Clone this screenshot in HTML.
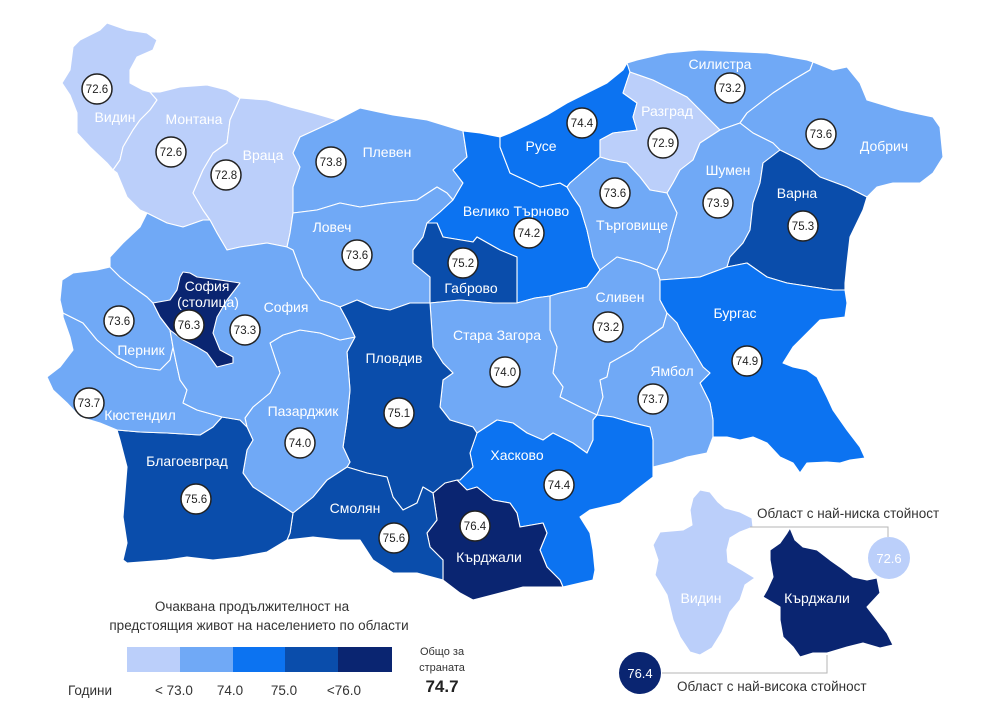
<!DOCTYPE html>
<html><head><meta charset="utf-8"><style>
html,body{margin:0;padding:0;background:#fff;}
svg{display:block;}
text{font-family:"Liberation Sans",Arial,sans-serif;}
.r polygon{stroke:#fff;stroke-width:1.1;stroke-linejoin:round;}
.c1{fill:#bbcffa}.c2{fill:#70a9f6}.c3{fill:#0c73f1}.c4{fill:#0a4dab}.c5{fill:#0a2571}
.lb{fill:#fff;font-size:14px;text-anchor:middle;}
.cv circle{fill:#fff;stroke:#222;stroke-width:1.5;}
.cv text{fill:#222;font-size:11.5px;text-anchor:middle;}
.lg{fill:#333;font-size:13.5px;}
</style></head><body>
<svg width="991" height="706" viewBox="0 0 991 706" xmlns="http://www.w3.org/2000/svg">
<g class="r">
<polygon class="c1" points="73,47 80,40 100,30 107,23 127,30 147,33 157,40 153,50 137,57 130,70 130,83 143,90 150,92 157,100 150,110 140,120 133,130 123,147 120,160 113,170 107,163 90,147 77,133 77,113 70,95 62,83 70,70"/>
<polygon class="c1" points="150,92 160,92 180,87 207,85 227,90 240,98 230,120 227,143 213,153 203,170 193,193 203,210 210,220 203,220 183,227 167,223 147,213 140,210 127,197 117,173 113,170 120,160 123,147 133,130 140,120 150,110 157,100"/>
<polygon class="c1" points="240,98 267,100 290,107 313,113 337,120 300,137 293,153 300,167 293,187 293,213 290,233 287,247 267,243 240,247 227,250 217,233 210,220 203,210 193,193 203,170 213,153 227,143 230,120"/>
<polygon class="c2" points="337,120 360,108 393,115 427,120 463,131 467,157 453,170 463,183 453,200 447,193 437,187 417,200 387,203 360,207 340,203 317,210 293,213 293,187 300,167 293,153 300,137"/>
<polygon class="c2" points="293,213 317,210 340,203 360,207 387,203 417,200 437,187 447,193 453,200 440,212 427,223 423,237 413,250 413,263 430,277 430,303 410,303 390,310 373,307 357,300 340,307 330,303 320,300 313,290 303,277 293,250 287,247 290,233"/>
<polygon class="c3" points="463,131 480,133 500,137 500,147 510,173 540,187 560,183 567,187 573,197 580,207 587,230 593,257 600,270 587,287 560,293 550,296 535,298 517,303 517,283 517,257 500,250 477,237 473,242 443,237 437,223 427,223 440,212 453,200 463,183 453,170 467,157"/>
<polygon class="c4" points="427,223 437,223 443,237 473,242 477,237 500,250 517,257 517,283 517,303 493,303 460,300 430,303 430,277 413,263 413,250 423,237"/>
<polygon class="c3" points="500,137 510,133 527,125 547,115 567,103 587,93 607,83 623,70 627,63 630,72 623,93 637,103 633,117 637,130 613,133 600,140 600,157 593,163 570,183 567,187 560,183 540,187 510,173 500,147"/>
<polygon class="c1" points="630,72 653,80 687,97 700,110 713,123 720,130 700,143 693,160 680,170 673,183 667,193 650,190 640,177 627,163 610,160 600,157 600,140 613,133 637,130 633,117 637,103 623,93"/>
<polygon class="c2" points="627,63 637,60 667,53 700,50 767,53 807,60 813,62 810,70 793,80 773,93 747,113 740,123 720,130 713,123 700,110 687,97 653,80 630,72"/>
<polygon class="c2" points="813,62 833,70 847,67 860,83 867,100 900,110 933,117 940,127 943,157 933,173 920,183 893,183 877,187 867,197 847,187 820,177 800,160 780,150 773,143 753,133 740,123 747,113 773,93 793,80 810,70"/>
<polygon class="c2" points="720,130 740,123 753,133 773,143 780,150 763,163 760,183 753,203 750,230 743,243 730,257 727,267 700,277 660,280 657,270 667,250 670,237 677,213 667,193 673,183 680,170 693,160 700,143"/>
<polygon class="c4" points="780,150 800,160 820,177 847,187 867,197 863,210 850,237 847,263 845,283 845,290 833,290 813,287 787,283 767,277 747,263 727,267 730,257 743,243 750,230 753,203 760,183 763,163"/>
<polygon class="c2" points="567,187 570,183 593,163 600,157 610,160 627,163 640,177 650,190 667,193 677,213 670,237 667,250 657,270 640,263 617,257 600,270 593,257 587,230 580,207 573,197"/>
<polygon class="c2" points="550,296 560,293 587,287 600,270 617,257 640,263 657,270 660,280 660,300 667,313 663,327 640,343 633,350 610,363 607,377 600,380 603,397 597,415 580,407 560,397 563,387 553,373 557,347 550,330"/>
<polygon class="c3" points="660,280 700,277 727,267 747,263 767,277 787,283 813,287 833,290 845,290 847,303 845,317 820,320 807,333 793,347 783,363 793,367 807,370 817,377 827,397 833,410 847,430 860,447 865,458 850,460 840,463 827,462 807,463 800,473 793,463 780,457 767,443 753,437 740,440 727,437 713,437 713,420 710,403 700,383 710,373 703,367 693,350 680,330 677,323 667,313 660,300"/>
<polygon class="c2" points="667,313 677,323 680,330 693,350 703,367 710,373 700,383 710,403 713,420 713,437 707,453 687,457 673,462 653,467 653,440 650,427 633,423 613,417 597,415 603,397 600,380 607,377 610,363 633,350 640,343 663,327"/>
<polygon class="c2" points="430,303 460,300 493,303 517,303 535,298 550,296 550,330 557,347 553,373 563,387 560,397 580,407 597,415 593,420 593,440 587,453 573,443 553,433 543,440 527,433 513,423 497,420 477,433 473,427 450,420 440,407 443,380 453,373 443,363 433,347"/>
<polygon class="c3" points="477,433 497,420 513,423 527,433 543,440 553,433 573,443 587,453 593,440 593,420 597,415 613,417 633,423 650,427 653,440 653,467 653,477 640,487 620,503 590,510 580,517 590,533 593,550 595,570 593,580 563,587 560,580 547,567 540,550 547,533 543,523 520,527 517,513 510,503 493,500 477,487 467,490 457,480 460,480 473,467 470,453"/>
<polygon class="c5" points="433,493 445,483 457,480 467,490 477,487 493,500 510,503 517,513 520,527 543,523 547,533 540,550 547,567 560,580 563,587 523,587 500,593 473,600 460,593 443,580 443,560 430,547 427,533 437,520"/>
<polygon class="c4" points="340,307 357,300 373,307 390,310 410,303 430,303 433,347 443,363 453,373 443,380 440,407 450,420 473,427 477,433 470,453 473,467 460,480 457,480 445,483 433,493 423,487 417,503 403,510 393,497 387,477 367,473 347,467 350,462 343,447 347,420 350,390 347,352 355,337 347,320"/>
<polygon class="c4" points="347,467 367,473 387,477 393,497 403,510 417,503 423,487 433,493 437,520 427,533 430,547 443,560 443,580 417,573 393,573 373,560 360,540 340,540 313,537 287,540 290,533 293,513 313,497 327,480"/>
<polygon class="c2" points="270,343 283,335 300,330 320,333 340,340 355,337 347,352 350,390 347,420 343,447 350,462 347,467 327,480 313,497 293,513 273,500 253,487 243,473 247,450 253,440 247,427 245,418 253,407 270,393 280,373"/>
<polygon class="c4" points="117,430 140,432 167,433 200,435 213,427 222,417 240,420 247,427 253,440 247,450 243,473 253,487 273,500 293,513 290,533 287,540 267,552 240,557 213,560 187,557 167,560 127,563 123,560 127,543 123,517 127,467 120,440"/>
<polygon class="c2" points="63,313 83,323 97,340 117,357 137,367 160,370 170,360 173,347 176,362 180,380 187,390 183,403 197,410 222,417 213,427 200,435 167,433 140,432 117,430 100,423 80,417 67,403 53,390 47,377 60,367 73,350 70,337 63,317"/>
<polygon class="c2" points="62,280 73,273 97,270 110,267 120,277 133,287 147,297 153,303 160,317 170,330 173,347 170,360 160,370 137,367 117,357 97,340 83,323 63,313 60,300"/>
<polygon class="c2" points="147,213 167,223 183,227 203,220 210,220 217,233 227,250 240,247 267,243 287,247 293,250 303,277 313,290 320,300 330,303 340,307 347,320 355,337 340,340 320,333 300,330 283,335 270,343 280,373 270,393 253,407 245,418 247,427 240,420 222,417 197,410 183,403 187,390 180,380 176,362 173,347 170,330 160,317 153,303 147,297 133,287 120,277 110,267 110,257 123,243 140,227"/>
<polygon class="c5" points="183,272 190,273 197,277 220,280 240,283 227,300 217,317 213,333 220,350 233,357 233,363 217,367 207,353 197,347 183,340 170,330 160,317 153,303 170,300 177,290 180,277"/>
<!-- inset -->
<polygon class="c1" points="693,498 700,490 710,492 718,502 725,508 740,512 752,518 753,527 740,532 730,538 727,550 728,562 742,570 755,578 745,585 740,600 730,612 722,632 712,648 700,655 690,652 680,637 673,620 667,595 655,575 658,560 653,545 660,532 683,530 692,525 690,510"/>
<polygon class="c5" points="787,533 790,528 795,540 803,547 817,550 830,560 840,567 853,577 867,580 877,578 880,593 867,607 877,620 887,633 893,645 880,648 863,643 847,647 827,653 813,653 800,657 793,647 783,637 780,620 780,607 763,597 767,590 773,577 770,560 770,550 780,543"/>
</g>

<g>
<text class="lb" x="115" y="122">Видин</text>
<text class="lb" x="194" y="124">Монтана</text>
<text class="lb" x="263" y="160">Враца</text>
<text class="lb" x="387" y="157">Плевен</text>
<text class="lb" x="332" y="232">Ловеч</text>
<text class="lb" x="541" y="151">Русе</text>
<text class="lb" x="667" y="116">Разград</text>
<text class="lb" x="720" y="69">Силистра</text>
<text class="lb" x="884" y="151">Добрич</text>
<text class="lb" x="728" y="175">Шумен</text>
<text class="lb" x="797" y="198">Варна</text>
<text class="lb" x="632" y="230">Търговище</text>
<text class="lb" x="516" y="216">Велико Търново</text>
<text class="lb" x="471" y="293">Габрово</text>
<text class="lb" x="620" y="302">Сливен</text>
<text class="lb" x="735" y="318">Бургас</text>
<text class="lb" x="672" y="376">Ямбол</text>
<text class="lb" x="497" y="340">Стара Загора</text>
<text class="lb" x="517" y="460">Хасково</text>
<text class="lb" x="489" y="562">Кърджали</text>
<text class="lb" x="355" y="513">Смолян</text>
<text class="lb" x="394" y="363">Пловдив</text>
<text class="lb" x="303" y="416">Пазарджик</text>
<text class="lb" x="187" y="466">Благоевград</text>
<text class="lb" x="140" y="420">Кюстендил</text>
<text class="lb" x="141" y="355">Перник</text>
<text class="lb" x="286" y="312">София</text>
<text class="lb" x="207" y="291">София</text>
<text class="lb" x="208" y="307">(столица)</text>
<text class="lb" x="701" y="603">Видин</text>
<text class="lb" x="817" y="603">Кърджали</text>
</g>

<g class="cv">
<circle cx="97" cy="89" r="15"/><text x="97" y="93">72.6</text>
<circle cx="171" cy="152" r="15"/><text x="171" y="156">72.6</text>
<circle cx="226" cy="175" r="15"/><text x="226" y="179">72.8</text>
<circle cx="331" cy="162" r="15"/><text x="331" y="166">73.8</text>
<circle cx="357" cy="255" r="15"/><text x="357" y="259">73.6</text>
<circle cx="582" cy="123" r="15"/><text x="582" y="127">74.4</text>
<circle cx="663" cy="143" r="15"/><text x="663" y="147">72.9</text>
<circle cx="730" cy="88" r="15"/><text x="730" y="92">73.2</text>
<circle cx="821" cy="134" r="15"/><text x="821" y="138">73.6</text>
<circle cx="718" cy="203" r="15"/><text x="718" y="207">73.9</text>
<circle cx="803" cy="226" r="15"/><text x="803" y="230">75.3</text>
<circle cx="615" cy="193" r="15"/><text x="615" y="197">73.6</text>
<circle cx="529" cy="233" r="15"/><text x="529" y="237">74.2</text>
<circle cx="463" cy="263" r="15"/><text x="463" y="267">75.2</text>
<circle cx="608" cy="327" r="15"/><text x="608" y="331">73.2</text>
<circle cx="747" cy="361" r="15"/><text x="747" y="365">74.9</text>
<circle cx="653" cy="399" r="15"/><text x="653" y="403">73.7</text>
<circle cx="505" cy="372" r="15"/><text x="505" y="376">74.0</text>
<circle cx="559" cy="485" r="15"/><text x="559" y="489">74.4</text>
<circle cx="475" cy="526" r="15"/><text x="475" y="530">76.4</text>
<circle cx="394" cy="538" r="15"/><text x="394" y="542">75.6</text>
<circle cx="399" cy="413" r="15"/><text x="399" y="417">75.1</text>
<circle cx="300" cy="443" r="15"/><text x="300" y="447">74.0</text>
<circle cx="196" cy="499" r="15"/><text x="196" y="503">75.6</text>
<circle cx="89" cy="403" r="15"/><text x="89" y="407">73.7</text>
<circle cx="119" cy="321" r="15"/><text x="119" y="325">73.6</text>
<circle cx="245" cy="330" r="15"/><text x="245" y="334">73.3</text>
<circle cx="189" cy="325" r="15"/><text x="189" y="329">76.3</text>
</g>

<!-- legend -->
<text class="lg" x="252" y="611" text-anchor="middle">Очаквана продължителност на</text>
<text class="lg" x="259" y="630" text-anchor="middle">предстоящия живот на населението по области</text>
<rect x="127" y="647" width="53" height="25" fill="#bbcffa"/>
<rect x="180" y="647" width="53" height="25" fill="#70a9f6"/>
<rect x="233" y="647" width="52" height="25" fill="#0c73f1"/>
<rect x="285" y="647" width="53" height="25" fill="#0a4dab"/>
<rect x="338" y="647" width="54" height="25" fill="#0a2571"/>
<text class="lg" x="112" y="695" text-anchor="end">Години</text>
<text class="lg" x="174" y="695" text-anchor="middle">&lt; 73.0</text>
<text class="lg" x="230" y="695" text-anchor="middle">74.0</text>
<text class="lg" x="284" y="695" text-anchor="middle">75.0</text>
<text class="lg" x="344" y="695" text-anchor="middle">&lt;76.0</text>
<text x="442" y="655" text-anchor="middle" fill="#333" font-size="11">Общо за</text>
<text x="442" y="671" text-anchor="middle" fill="#333" font-size="11">страната</text>
<text x="442" y="692" text-anchor="middle" fill="#222" font-size="17" font-weight="bold">74.7</text>

<!-- inset annotations -->
<polyline points="750,527 888,527 888,537" fill="none" stroke="#b5b5b5" stroke-width="1"/>
<text class="lg" x="757" y="518">Област с най-ниска стойност</text>
<circle cx="889" cy="558" r="21" fill="#bbcffa"/>
<text x="889" y="563" text-anchor="middle" fill="#fff" font-size="13">72.6</text>
<polyline points="662,673 827,673 827,655" fill="none" stroke="#b5b5b5" stroke-width="1"/>
<circle cx="640" cy="673" r="21" fill="#0a2571"/>
<text x="640" y="678" text-anchor="middle" fill="#fff" font-size="13">76.4</text>
<text class="lg" x="677" y="691">Област с най-висока стойност</text>
</svg>
</body></html>
